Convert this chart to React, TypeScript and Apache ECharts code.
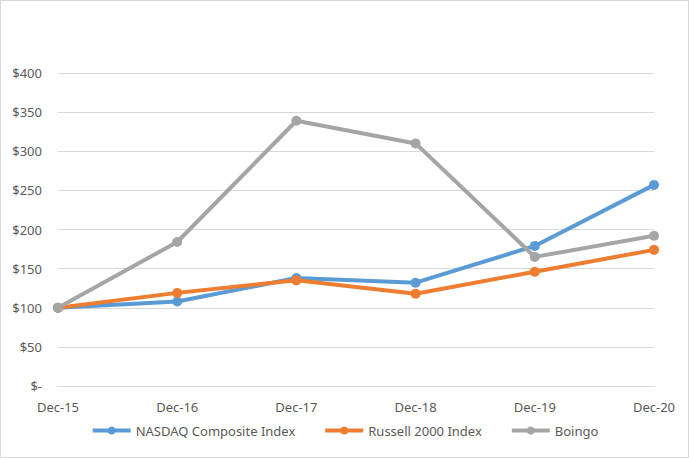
import React, { useEffect, useRef } from "react";
import * as echarts from "echarts";

const categories = ["Dec-15", "Dec-16", "Dec-17", "Dec-18", "Dec-19", "Dec-20"];
const nasdaq = [100, 108, 138, 132, 179, 257];
const russell = [100, 119, 135, 118, 146, 174];
const boingo = [100, 184, 339, 310, 165, 192];
const seriesNames = ["NASDAQ Composite Index", "Russell 2000 Index", "Boingo"];
const colors = ["#5B9BD5", "#ED7D31", "#A5A5A5"];

export default function App() {
  const ref = useRef<HTMLDivElement>(null);
  useEffect(() => {
    if (!ref.current) return;
    const chart = echarts.init(ref.current, null, { renderer: "svg" });
    const font = "Noto Sans";
    const mk = (name: string, data: number[], color: string) => ({
      name,
      type: "line",
      data,
      color,
      symbol: "circle",
      symbolSize: 10,
      lineStyle: { width: 4, color },
      itemStyle: { color },
    });
    chart.setOption({
      animation: false,
      backgroundColor: "#fff",
      grid: { left: 57, right: 34, top: 72, bottom: 71 },
      legend: {
        bottom: 15,
        left: "center",
        itemWidth: 38,
        itemHeight: 10,
        itemGap: 28,
        lineStyle: { width: 4 },
        textStyle: { color: "#595959", fontSize: 13, fontFamily: font },
        data: seriesNames,
      },
      xAxis: {
        type: "category",
        data: categories,
        boundaryGap: false,
        axisLine: { lineStyle: { color: "#d9d9d9" } },
        axisTick: { show: false },
        axisLabel: { color: "#595959", fontSize: 13, fontFamily: font, margin: 14 },
      },
      yAxis: {
        type: "value",
        min: 0,
        max: 400,
        interval: 50,
        axisLine: { show: false },
        axisTick: { show: false },
        splitLine: { lineStyle: { color: "#d9d9d9", width: 1 } },
        axisLabel: {
          color: "#595959",
          fontSize: 13,
          fontFamily: font,
          margin: 16,
          formatter: (v: number) => (v === 0 ? "$-" : "$" + v),
        },
      },
      series: [
        mk(seriesNames[0], nasdaq, colors[0]),
        mk(seriesNames[1], russell, colors[1]),
        mk(seriesNames[2], boingo, colors[2]),
      ],
    });
    return () => chart.dispose();
  }, []);
  return (
    <div
      ref={ref}
      style={{
        position: "fixed",
        left: 0,
        top: 0,
        width: 689,
        height: 458,
        boxSizing: "border-box",
        border: "1px solid #d9d9d9",
        background: "#fff",
      }}
    />
  );
}
